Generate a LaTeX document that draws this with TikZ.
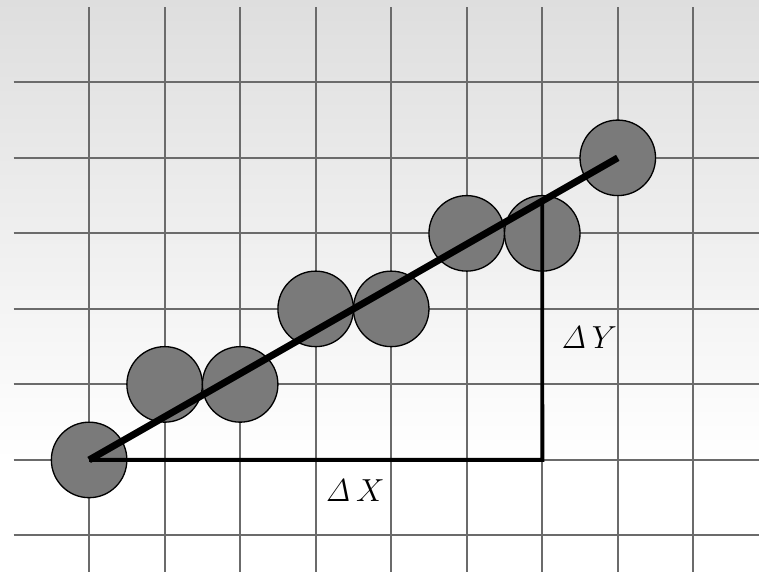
\documentclass[tikz,border=0pt]{standalone}
\usetikzlibrary{calc}
\definecolor{cgrid}{HTML}{6B6B6B}
\definecolor{cdot}{HTML}{7A7A7A}
\definecolor{ctop}{HTML}{DEDEDE}
\tikzset{
  gridline/.style={draw=cgrid, line width=0.75pt},
  dot/.style={circle, draw=black, fill=cdot, line width=0.5pt, minimum size=1cm, inner sep=0pt},
  fitline/.style={draw=black, line width=2.6pt},
  leg/.style={draw=black, line width=1.5pt},
  lbl/.style={font=\large},
}

\begin{document}
\begin{tikzpicture}
  \useasboundingbox (-1.18,-1.48) rectangle (8.87,6.09);
  \fill[white] (-1.18,-1.48) rectangle (8.87,0);
  \shade[top color=ctop, bottom color=white] (-1.18,0) rectangle (8.87,6.09);
  % grid
  \foreach \x in {0,...,8} \draw[gridline] (\x,-1.48) -- (\x,6);
  \foreach \y in {-1,...,5} \draw[gridline] (-1,\y) -- (8.87,\y);
  % samples
  \foreach \i/\x/\y in {0/0/0, 1/1/1, 2/2/1, 3/3/2, 4/4/2, 5/5/3, 6/6/3, 7/7/4}
    \node[dot] (p\i) at (\x,\y) {};
  \draw[fitline] (p0.center) -- (p7.center);
  \coordinate (c) at (6,0);
  \coordinate (h) at ($(p0.center)!6/7!(p7.center)$);
  \draw[leg] (p0.center) -- (c) -- (h);
  \node[lbl] (dx) at (3.52,-0.4) {$\mathit{\Delta}\,X$};
  \node[lbl] (dy) at (6.62,1.62) {$\mathit{\Delta}\,Y$};
\end{tikzpicture}
\end{document}
